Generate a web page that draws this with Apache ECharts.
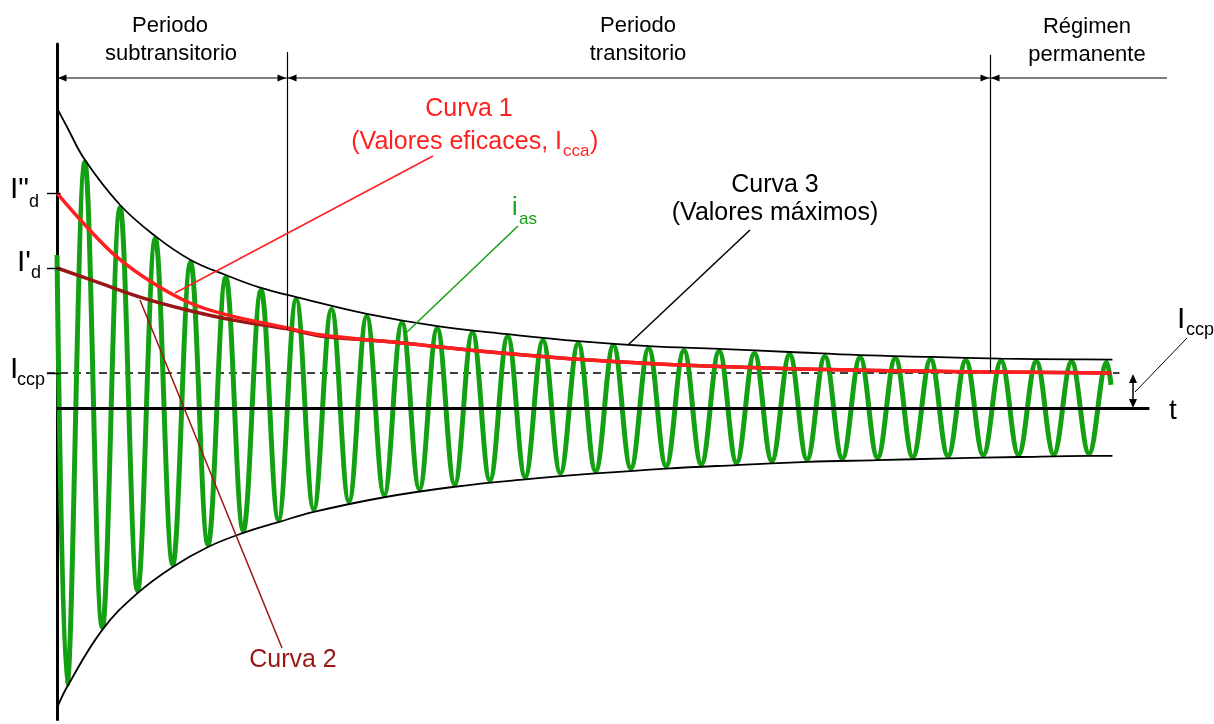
<!DOCTYPE html>
<html><head><meta charset="utf-8">
<script src="https://cdn.jsdelivr.net/npm/echarts@6/dist/echarts.min.js"></script>
<style>html,body{margin:0;padding:0;background:#fff}#c{width:1214px;height:724px}</style>
</head><body><div id="c"></div>
<script>
// ---- data (time in ms, current in multiples of Iccp) ----
// extrema of the phase current i_as (troughs / peaks)
const iasTime = [0,
  5.7, 15.8, 25.7, 35.8, 45.7, 55.8, 65.7, 75.8, 85.7, 95.8,
  105.7, 115.8, 125.7, 135.8, 145.7, 155.8, 165.7, 175.8, 185.7, 195.8,
  205.7, 215.8, 225.7, 235.8, 245.7, 255.8, 265.7, 275.8, 285.7, 295.8,
  305.7, 315.8, 325.7, 335.8, 345.7, 355.8, 365.7, 375.8, 385.7, 395.8,
  405.7, 415.8, 425.7, 435.8, 445.7, 455.8, 465.7, 475.8, 485.7, 495.8,
  505.7, 515.8, 525.7, 535.8, 545.7, 555.8, 565.7, 575.8, 585.7, 595.8,
  598.2];
const iasValue = [4.37,
  -7.90, 7.02, -6.27, 5.73, -5.22, 4.84, -4.47, 4.16, -3.90, 3.73,
  -3.50, 3.36, -3.19, 3.10, -2.90, 2.82, -2.67, 2.62, -2.48, 2.44,
  -2.32, 2.27, -2.18, 2.16, -2.06, 2.04, -1.97, 1.93, -1.86, 1.84,
  -1.80, 1.79, -1.72, 1.70, -1.66, 1.64, -1.61, 1.62, -1.56, 1.56,
  -1.51, 1.53, -1.47, 1.47, -1.44, 1.44, -1.42, 1.42, -1.40, 1.39,
  -1.37, 1.36, -1.34, 1.34, -1.33, 1.33, -1.32, 1.32, -1.30, 1.30,
  0.66];
// Curva 3: envelope of maximum values
const envUpperTime = [0, 5.7, 15.8, 35.8, 55.8, 75.8, 95.8, 115.8, 135.8, 175.8, 215.8, 255.8, 295.8, 335.8, 375.8, 415.8, 455.8, 495.8, 535.8, 575.8, 599];
const envUpper     = [8.57, 8.03, 7.09, 5.80, 4.91, 4.23, 3.80, 3.43, 3.17, 2.69, 2.34, 2.11, 1.91, 1.77, 1.69, 1.60, 1.51, 1.46, 1.41, 1.39, 1.38];
const envLowerTime = [0, 5.7, 25.7, 45.7, 65.7, 85.7, 105.7, 125.7, 145.7, 185.7, 225.7, 265.7, 305.7, 345.7, 385.7, 425.7, 465.7, 505.7, 545.7, 585.7, 599];
const envLower     = [-8.57, -7.97, -6.34, -5.29, -4.54, -3.97, -3.57, -3.26, -2.97, -2.55, -2.25, -2.04, -1.87, -1.73, -1.63, -1.54, -1.49, -1.44, -1.40, -1.37, -1.37];
// Curva 1: rms values Icca
const curve1Time  = [0, 17, 34.1, 54.5, 75.5, 96.5, 130.6, 149.3, 189, 245.8, 302.5, 353.6, 444.4, 529.5, 598];
const curve1Value = [6.14, 5.17, 4.31, 3.57, 3.0, 2.66, 2.29, 2.09, 1.89, 1.60, 1.37, 1.23, 1.09, 1.03, 1.0];
// Curva 2
const curve2Time  = [0, 24.4, 47.1, 73.8, 99.9, 130.6, 149.3, 189, 245.8, 302.5, 353.6, 444.4, 529.5, 598];
const curve2Value = [4.0, 3.57, 3.17, 2.80, 2.51, 2.26, 2.06, 1.89, 1.60, 1.37, 1.23, 1.09, 1.03, 1.0];
// levels marked on the current axis: I"d, I'd, Iccp
const levelValues = [6.14, 4.0, 1.0];
const iccpValue = 1.0;
const iccpLineEnd = 603;
// period boundaries (ms): subtransitorio | transitorio | permanente
const boundaryTimes = [130.5, 529.5];
const boundaryBottoms = [2.23, 1.03];
const boundaryTops = [10.17, 10.09];
const timeMax = 620;

const RED = '#ff1f1f', DRED = '#9a1616', GREEN = '#13a013', BLACK = '#000';
const FONT = '"Liberation Sans", Arial, Helvetica, sans-serif';
const zip = (a, b) => a.map((t, i) => [t, b[i]]);

function txt(x, y, text, size, color, align) {
  align = align || 'center';
  return {type: 'text', x: x, y: y, silent: true, z: 100,
    style: {text: text, font: size + 'px ' + FONT, fill: color || BLACK,
      align: align, verticalAlign: 'middle', textAlign: align, textVerticalAlign: 'middle'}};
}
function seg(x1, y1, x2, y2, color, w) {
  return {type: 'line', silent: true, z: 100, shape: {x1, y1, x2, y2}, style: {stroke: color || BLACK, lineWidth: w || 1}};
}
function arrow(tx, ty, dir, L, H) {
  L = L || 8.5; H = H || 3.5; let p;
  if (dir === 'l') p = [[tx, ty], [tx + L, ty - H], [tx + L, ty + H]];
  if (dir === 'r') p = [[tx, ty], [tx - L, ty - H], [tx - L, ty + H]];
  if (dir === 'u') p = [[tx, ty], [tx - H, ty + L], [tx + H, ty + L]];
  if (dir === 'd') p = [[tx, ty], [tx - H, ty - L], [tx + H, ty - L]];
  return {type: 'polygon', silent: true, z: 100, shape: {points: p}, style: {fill: BLACK}};
}

const markData = [
  [{coord: [0, 0], lineStyle: {width: 3, color: BLACK, type: 'solid'}}, {coord: [timeMax, 0]}]
];
levelValues.forEach(v => markData.push([{coord: [-5.7, v], lineStyle: {width: 1.4, color: BLACK, type: 'solid'}}, {coord: [2, v]}]));
boundaryTimes.forEach((t, i) => markData.push([{coord: [t, boundaryTops[i]], lineStyle: {width: 1.2, color: BLACK, type: 'solid'}}, {coord: [t, boundaryBottoms[i]]}]));

const graphic = [
  // header
  txt(170, 26, 'Periodo', 22), txt(171, 54, 'subtransitorio', 22),
  txt(638, 26, 'Periodo', 22), txt(638, 54, 'transitorio', 22),
  txt(1087, 27, 'Régimen', 22), txt(1087, 55, 'permanente', 22),
  seg(57, 78, 1167, 78, BLACK, 1.2),
  arrow(58, 78, 'l'), arrow(286, 78, 'r'), arrow(288, 78, 'l'), arrow(989, 78, 'r'), arrow(991, 78, 'l'),
  // Curva 1
  txt(469, 109, 'Curva 1', 25, RED),
  txt(562, 142, '(Valores eficaces, I', 25, RED, 'right'),
  txt(563, 151, 'cca', 17, RED, 'left'),
  txt(590, 142, ')', 25, RED, 'left'),
  seg(433, 156, 175, 293, RED, 1.5),
  // i_as
  txt(512, 208, 'i', 25, GREEN, 'left'),
  txt(519, 219, 'as', 17, GREEN, 'left'),
  seg(518, 226, 407, 332, GREEN, 1.5),
  // Curva 3
  txt(775, 185, 'Curva 3', 25), txt(775, 213, '(Valores máximos)', 25),
  seg(750, 230, 628, 345, BLACK, 1.5),
  // Curva 2
  txt(293, 660, 'Curva 2', 25, DRED),
  seg(140, 300, 282, 648, DRED, 1.5),
  // t axis label
  txt(1173, 411, 't', 28),
  // left level labels
  txt(10, 190, 'I"', 30, BLACK, 'left'), txt(29, 202, 'd', 18, BLACK, 'left'),
  txt(17, 263, "I'", 30, BLACK, 'left'), txt(31, 273, 'd', 18, BLACK, 'left'),
  txt(10, 370, 'I', 30, BLACK, 'left'), txt(17, 380, 'ccp', 18, BLACK, 'left'),
  // right Iccp dimension
  seg(1133, 380, 1133, 402, BLACK, 1.5), arrow(1133, 374, 'u', 9, 4), arrow(1133, 408, 'd', 9, 4),
  seg(1135, 392, 1187, 338, BLACK, 1),
  txt(1177, 320, 'I', 30, BLACK, 'left'), txt(1186, 330, 'ccp', 18, BLACK, 'left')
];

const chart = echarts.init(document.getElementById('c'), null, {renderer: 'canvas'});
chart.setOption({
  animation: false,
  backgroundColor: '#fff',
  grid: {left: 39.38, top: 44, width: 1110.06, height: 675.5, containLabel: false},
  xAxis: {type: 'value', min: -10, max: timeMax,
    axisLine: {show: false}, axisTick: {show: false}, axisLabel: {show: false}, splitLine: {show: false}},
  yAxis: {type: 'value', min: -8.9, max: 10.4,
    axisLine: {show: true, onZero: true, lineStyle: {color: BLACK, width: 3}},
    axisTick: {show: false}, axisLabel: {show: false}, splitLine: {show: false}},
  graphic: graphic,
  series: [
    {name: 'Iccp', type: 'line', data: [[-5.7, iccpValue], [iccpLineEnd, iccpValue]],
      symbol: 'none', silent: true, clip: false,
      lineStyle: {color: BLACK, width: 1.5, type: [8, 5]},
      markLine: {silent: true, symbol: ['none', 'none'], label: {show: false}, animation: false, data: markData}},
    {name: 'ias', type: 'line', data: zip(iasTime, iasValue), symbol: 'none', smooth: 0.38, silent: true,
      lineStyle: {color: GREEN, width: 5}},
    {name: 'Curva 3 sup', type: 'line', data: zip(envUpperTime, envUpper), symbol: 'none', smooth: 0.4, silent: true,
      lineStyle: {color: BLACK, width: 1.8}},
    {name: 'Curva 3 inf', type: 'line', data: zip(envLowerTime, envLower), symbol: 'none', smooth: 0.4, silent: true,
      lineStyle: {color: BLACK, width: 1.8}},
    {name: 'Curva 2', type: 'line', data: zip(curve2Time, curve2Value), symbol: 'none', smooth: 0.4, silent: true,
      lineStyle: {color: DRED, width: 3.5}},
    {name: 'Curva 1', type: 'line', data: zip(curve1Time, curve1Value), symbol: 'none', smooth: 0.4, silent: true,
      lineStyle: {color: RED, width: 3.5}}
  ]
});
</script>
</body></html>
